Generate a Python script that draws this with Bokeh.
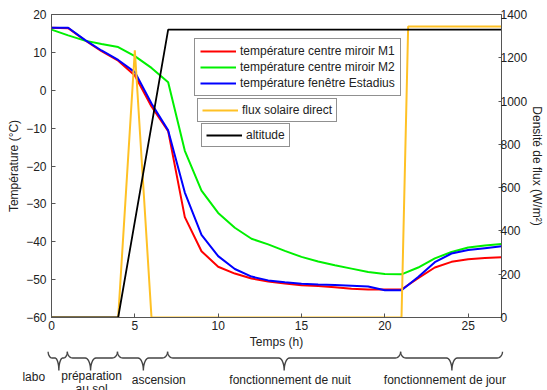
import numpy as np
from bokeh.plotting import figure
from bokeh.models import Range1d, LinearAxis, FixedTicker, Legend, LegendItem
from bokeh.embed import file_html
from bokeh.resources import INLINE
from bokeh.core.properties import value

# ---------------- data ----------------
hours = list(range(28))
temp_m1 = [16.5, 16.4, 13.2, 10.3, 7.8, 3.9, -4.3, -10.8, -33.5, -42.5, -46.6, -48.4, -49.7, -50.5,
           -51.0, -51.5, -51.7, -52.0, -52.4, -52.6, -52.6, -52.6, -49.6, -46.8, -45.3, -44.6, -44.3, -44.1]
temp_m2 = [16.0, 14.5, 13.1, 12.2, 11.4, 9.0, 5.9, 2.1, -16.0, -26.5, -32.4, -36.3, -39.2, -40.7,
           -42.4, -44.0, -45.2, -46.2, -47.1, -48.0, -48.5, -48.6, -46.8, -44.4, -42.7, -41.5, -41.0, -40.6]
temp_estadius = [16.5, 16.5, 13.3, 10.5, 8.0, 4.8, -3.5, -10.6, -27.0, -38.2, -43.8, -47.2, -49.2, -50.2,
                 -50.7, -51.1, -51.3, -51.4, -51.6, -51.8, -52.8, -52.8, -49.3, -45.4, -43.1, -42.2, -41.7, -41.2]
flux_time = [0, 4, 5, 6, 21, 21.4, 27]
flux_direct = [0, 0, 1235, 0, 0, 1345, 1345]
alt_time = [0, 4, 7, 27]
altitude = [0, 0, 1330, 1330]

phase_bounds = [-0.2, 0.95, 3.95, 6.95, 20.9, 27.0]
phase_names = ["labo", "préparation", "ascension", "fonctionnement de nuit", "fonctionnement de jour"]

temp_ticks = [-60, -50, -40, -30, -20, -10, 0, 10, 20]
flux_ticks = [0, 200, 400, 600, 800, 1000, 1200, 1400]
time_ticks = [0, 5, 10, 15, 20, 25]

# ---------------- layout constants ----------------
FONT = "Liberation Sans"
W = 547
LEFT, RIGHT, TOP, BOTTOM = 51, 45, 14, 34
H_MAIN = 351
H_BR = 39
AX = "#555555"
TXT = "#222222"

p = figure(width=W, height=H_MAIN, x_range=Range1d(0, 27), y_range=Range1d(-60, 20),
           min_border_left=LEFT, min_border_right=RIGHT, min_border_top=TOP, min_border_bottom=BOTTOM,
           toolbar_location=None, output_backend="svg")
p.extra_y_ranges = {"flux": Range1d(0, 1400)}
p.grid.visible = False
p.outline_line_color = AX
p.background_fill_color = "white"
p.border_fill_color = "white"

p.add_layout(LinearAxis(y_range_name="flux"), "right")

p.xaxis.ticker = FixedTicker(ticks=time_ticks)
p.yaxis[0].ticker = FixedTicker(ticks=temp_ticks)
p.yaxis[1].ticker = FixedTicker(ticks=flux_ticks)
p.xaxis.axis_label = "Temps (h)"
p.yaxis[0].axis_label = "Température (°C)"
p.yaxis[1].axis_label = "Densité de flux (W/m²)"

for ax in p.axis:
    ax.axis_line_color = AX
    ax.major_tick_line_color = AX
    ax.major_tick_in = 4
    ax.major_tick_out = 0
    ax.minor_tick_line_color = None
    ax.major_label_text_font = FONT
    ax.major_label_text_font_size = "12px"
    ax.major_label_text_color = TXT
    ax.axis_label_text_font = FONT
    ax.axis_label_text_font_size = "12px"
    ax.axis_label_text_font_style = "normal"
    ax.axis_label_text_color = TXT
p.xaxis.major_label_standoff = 3
p.xaxis.axis_label_standoff = 2
p.yaxis[0].major_label_standoff = 5
p.yaxis[0].axis_label_standoff = 2
p.yaxis[1].major_tick_in = 3
p.yaxis[1].major_label_standoff = -1
p.yaxis[1].axis_label_standoff = 0

r1 = p.line(hours, temp_m1, line_color="#ff0000", line_width=2)
r2 = p.line(hours, temp_m2, line_color="#00f000", line_width=2)
r3 = p.line(hours, temp_estadius, line_color="#0000ff", line_width=2)
r4 = p.line(flux_time, flux_direct, y_range_name="flux", line_color="#ffc125", line_width=2)
r5 = p.line(alt_time, altitude, y_range_name="flux", line_color="#000000", line_width=1.8)

def make_legend(items, loc, pad):
    lg = Legend(items=items, location=loc, orientation="vertical",
                label_text_font=FONT, label_text_font_size="12px", label_text_color=TXT,
                glyph_width=36, glyph_height=14, label_height=14, label_standoff=4,
                spacing=2, padding=pad, margin=0,
                border_line_color="#222222", border_line_width=1,
                background_fill_color="white", background_fill_alpha=1)
    p.add_layout(lg)

make_legend([LegendItem(label="température centre miroir M1", renderers=[r1]),
             LegendItem(label="température centre miroir M2", renderers=[r2]),
             LegendItem(label="température fenêtre Estadius", renderers=[r3])], (143, 221), 5)
make_legend([LegendItem(label="flux solaire direct", renderers=[r4])], (146, 195), 4)
make_legend([LegendItem(label="altitude", renderers=[r5])], (150, 170), 4)

# ---------------- braces below the axis (separate root, same x scale) ----------------
ppu = (W - LEFT - RIGHT) / 27.0
bx0 = -LEFT / ppu
bx1 = 27 + RIGHT / ppu
q = figure(width=W, height=H_BR, x_range=Range1d(bx0, bx1), y_range=Range1d(H_BR, 0),
           min_border=0, toolbar_location=None, output_backend="svg",
           x_axis_location=None, y_axis_location=None)
q.grid.visible = False
q.outline_line_color = None
q.background_fill_color = "white"
q.border_fill_color = "white"

tips = [0.44, 2.34, 5.5, 13.93, 23.97]
label_x = [-1.06, 2.4, 6.42, 14.28, 23.55]
label_y = [25.0, 24.5, 28.5, 28.5, 28.5]
y_top, y_mid, y_bot = 0.0, 6.5, 19.0

def brace(a, b, c):
    r = min(0.32, (c - a) / 2.2, (b - c) / 2.2)
    t = np.linspace(0, np.pi / 2, 10)
    xs, ys = [], []
    xs += list(a + r * (1 - np.cos(t))); ys += list(y_top + (y_mid - y_top) * np.sin(t))
    xs += list(c - r + r * np.sin(t)); ys += list(y_mid + (y_bot - y_mid) * (1 - np.cos(t)))
    xs += list(c + r - r * np.cos(t)); ys += list(y_mid + (y_bot - y_mid) * (1 - np.sin(t)))
    xs += list(b - r * (1 - np.sin(t))); ys += list(y_mid - (y_mid - y_top) * (1 - np.cos(t)))
    return xs, ys

bxs, bys = [], []
for i in range(len(phase_names)):
    xs, ys = brace(phase_bounds[i], phase_bounds[i + 1], tips[i])
    bxs.append(xs); bys.append(ys)
q.multi_line(bxs, bys, line_color="#444444", line_width=1.4)
q.text(label_x, label_y, text=phase_names,
       text_font=value(FONT), text_font_size="12px", text_color=TXT,
       text_align="center", text_baseline="middle")
q.text([label_x[1]], [37.0], text=["au sol"], text_font=value(FONT), text_font_size="12px",
       text_color=TXT, text_align="center", text_baseline="middle")

open("out.html", "w").write(file_html([p, q], INLINE))
